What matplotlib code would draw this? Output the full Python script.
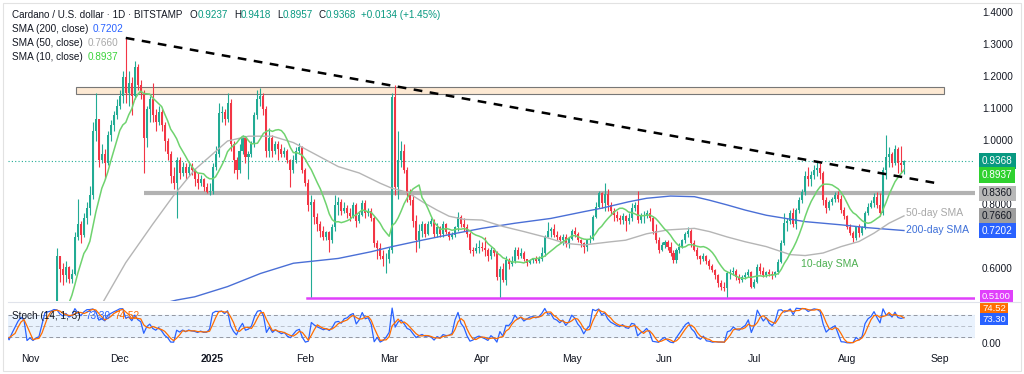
import numpy as np
import pandas as pd
import matplotlib
matplotlib.use('Agg')
import matplotlib.pyplot as plt
import matplotlib.dates as mdates
from matplotlib.transforms import blended_transform_factory
from matplotlib.patches import Rectangle
from matplotlib.lines import Line2D

plt.rcParams['font.family'] = ['Liberation Sans', 'DejaVu Sans']

# daily candles (close, high, low); open = previous close
oct24 = [(0.350,0.356,0.343),(0.357,0.362,0.347),(0.355,0.360,0.350),(0.348,0.358,0.345),(0.370,0.374,0.346),
         (0.357,0.372,0.352),(0.360,0.365,0.352),(0.352,0.362,0.349),(0.357,0.360,0.350),(0.357,0.362,0.353),
         (0.367,0.370,0.355),(0.355,0.370,0.350),(0.353,0.360,0.345),(0.344,0.355,0.340),(0.348,0.352,0.338),
         (0.335,0.352,0.330),(0.343,0.346,0.333),(0.350,0.352,0.340),(0.356,0.358,0.345),(0.359,0.368,0.352),
         (0.356,0.365,0.350),(0.332,0.358,0.328)]
nov24 = [(0.330,0.345,0.322),(0.323,0.335,0.318),(0.318,0.325,0.308),(0.320,0.330,0.310),(0.340,0.345,0.318),
         (0.365,0.375,0.338),(0.380,0.390,0.360),(0.395,0.405,0.375),(0.460,0.470,0.395),(0.640,0.665,0.455),
         (0.600,0.640,0.560),(0.580,0.620,0.550),(0.605,0.625,0.560),(0.570,0.610,0.555),(0.585,0.600,0.555),
         (0.700,0.715,0.580),(0.740,0.820,0.690),(0.705,0.750,0.680),(0.760,0.775,0.700),(0.790,0.810,0.740),
         (0.830,0.860,0.770),(1.030,1.060,0.820),(1.070,1.150,1.000),(0.940,1.070,0.920),(0.960,0.990,0.930),
         (0.930,0.975,0.880),(1.020,1.030,0.925),(1.050,1.065,1.000),(1.080,1.095,1.030),(1.110,1.130,1.070)]
dec24 = [(1.140,1.160,1.100),(1.200,1.220,1.120),(1.150,1.325,1.120),(1.180,1.220,1.110),(1.140,1.200,1.080),
         (1.230,1.250,1.130),(1.175,1.240,1.160),(1.150,1.190,1.130),(1.010,1.160,0.900),(1.100,1.110,0.980),
         (1.130,1.140,1.060),(1.080,1.180,1.060),(1.060,1.100,1.030),(1.090,1.110,1.050),(1.050,1.100,1.030),
         (1.000,1.060,0.970),(0.960,1.010,0.940),(0.890,0.970,0.870),(0.870,0.920,0.850),(0.940,0.950,0.760),
         (0.900,0.950,0.880),(0.920,0.935,0.890),(0.900,0.930,0.880),(0.920,0.935,0.890),(0.910,0.930,0.895),
         (0.880,0.915,0.860),(0.870,0.900,0.850),(0.880,0.895,0.860),(0.855,0.885,0.845),(0.840,0.870,0.836),
         (0.845,0.870,0.830)]
jan25 = [(0.920,0.930,0.835),(0.960,0.985,0.910),(1.087,1.120,0.950),(1.090,1.110,1.060),(1.070,1.100,1.050),
         (1.120,1.150,1.060),(0.990,1.130,0.970),(0.940,1.000,0.900),(0.910,0.950,0.880),(0.970,0.990,0.900),
         (1.010,1.020,0.960),(0.950,1.010,0.930),(0.960,0.970,0.880),(0.990,1.000,0.950),(1.080,1.090,0.980),
         (1.130,1.160,1.070),(1.140,1.165,1.110),(1.100,1.150,1.080),(0.970,1.110,0.950),(1.010,1.040,0.950),
         (0.970,1.020,0.950),(0.990,1.000,0.960),(0.975,1.000,0.940),(0.960,0.990,0.950),(0.970,0.980,0.950),
         (0.940,0.975,0.930),(0.910,0.945,0.857),(0.940,0.955,0.900),(0.970,0.980,0.930),(0.980,0.995,0.960),
         (0.910,0.985,0.900)]
feb25 = [(0.870,0.915,0.860),(0.800,0.880,0.780),(0.810,0.830,0.513),(0.764,0.820,0.740),(0.740,0.775,0.720),
         (0.720,0.750,0.700),(0.700,0.735,0.690),(0.715,0.720,0.690),(0.690,0.720,0.654),(0.730,0.740,0.680),
         (0.800,0.830,0.720),(0.810,0.825,0.770),(0.780,0.820,0.770),(0.790,0.810,0.775),(0.775,0.800,0.760),
         (0.765,0.790,0.750),(0.800,0.810,0.760),(0.750,0.805,0.730),(0.770,0.780,0.745),(0.805,0.815,0.765),
         (0.775,0.815,0.760),(0.780,0.790,0.765),(0.760,0.790,0.750),(0.680,0.765,0.670),(0.665,0.690,0.630),
         (0.640,0.680,0.630),(0.630,0.660,0.610),(0.630,0.650,0.587)]
mar25 = [(0.659,0.670,0.620),(1.138,1.150,0.650),(0.857,1.175,0.830),(0.940,1.030,0.820),(0.970,1.000,0.920),
         (0.910,0.990,0.900),(0.836,0.920,0.810),(0.815,0.850,0.800),(0.750,0.830,0.730),(0.690,0.770,0.654),
         (0.720,0.740,0.665),(0.740,0.750,0.700),(0.710,0.745,0.700),(0.740,0.750,0.705),(0.750,0.760,0.735),
         (0.710,0.755,0.700),(0.730,0.745,0.700),(0.710,0.735,0.700),(0.740,0.750,0.700),(0.715,0.745,0.710),
         (0.700,0.720,0.690),(0.705,0.715,0.695),(0.730,0.735,0.700),(0.763,0.779,0.720),(0.740,0.770,0.730),
         (0.730,0.760,0.720),(0.710,0.740,0.700),(0.660,0.715,0.650),(0.655,0.670,0.640),(0.665,0.680,0.650),
         (0.670,0.690,0.650)]
apr25 = [(0.665,0.685,0.655),(0.660,0.700,0.640),(0.640,0.665,0.625),(0.660,0.670,0.630),(0.650,0.665,0.640),
         (0.576,0.655,0.565),(0.600,0.610,0.513),(0.565,0.620,0.560),(0.628,0.640,0.550),(0.615,0.635,0.600),
         (0.625,0.640,0.610),(0.660,0.670,0.620),(0.640,0.670,0.630),(0.650,0.665,0.635),(0.630,0.655,0.625),
         (0.620,0.630,0.610),(0.628,0.632,0.615),(0.630,0.635,0.620),(0.625,0.640,0.618),(0.630,0.640,0.620),
         (0.650,0.670,0.625),(0.700,0.705,0.640),(0.720,0.748,0.700),(0.725,0.730,0.700),(0.705,0.740,0.700),
         (0.700,0.720,0.690),(0.690,0.705,0.680),(0.700,0.710,0.675),(0.680,0.710,0.670),(0.695,0.700,0.665)]
may25 = [(0.720,0.725,0.690),(0.710,0.730,0.700),(0.690,0.715,0.685),(0.680,0.695,0.670),(0.670,0.685,0.650),
         (0.690,0.695,0.655),(0.695,0.705,0.680),(0.763,0.770,0.690),(0.795,0.810,0.760),(0.836,0.845,0.790),
         (0.805,0.840,0.790),(0.835,0.868,0.780),(0.800,0.850,0.780),(0.780,0.810,0.770),(0.770,0.790,0.750),
         (0.760,0.780,0.750),(0.753,0.770,0.740),(0.765,0.775,0.740),(0.750,0.770,0.720),(0.760,0.775,0.740),
         (0.790,0.805,0.750),(0.800,0.810,0.780),(0.753,0.845,0.745),(0.765,0.775,0.745),(0.770,0.780,0.745),
         (0.775,0.785,0.760),(0.760,0.790,0.750),(0.720,0.765,0.710),(0.690,0.740,0.680),(0.659,0.700,0.650),
         (0.675,0.685,0.655)]
jun25 = [(0.685,0.690,0.665),(0.670,0.690,0.660),(0.650,0.685,0.640),(0.628,0.660,0.620),(0.660,0.665,0.620),
         (0.670,0.680,0.650),(0.690,0.695,0.665),(0.710,0.715,0.680),(0.720,0.732,0.700),(0.680,0.725,0.670),
         (0.660,0.690,0.655),(0.640,0.670,0.630),(0.630,0.645,0.615),(0.640,0.650,0.625),(0.625,0.645,0.615),
         (0.610,0.630,0.600),(0.597,0.615,0.590),(0.580,0.600,0.570),(0.555,0.585,0.545),(0.545,0.565,0.535),
         (0.540,0.560,0.530),(0.586,0.595,0.513),(0.590,0.600,0.570),(0.595,0.605,0.580),(0.575,0.600,0.565),
         (0.565,0.585,0.555),(0.575,0.580,0.560),(0.580,0.590,0.570),(0.590,0.600,0.575),(0.545,0.595,0.540)]
jul25 = [(0.560,0.570,0.540),(0.607,0.615,0.555),(0.595,0.620,0.585),(0.580,0.605,0.575),(0.590,0.595,0.575),
         (0.585,0.600,0.578),(0.580,0.595,0.570),(0.590,0.595,0.575),(0.623,0.630,0.585),(0.680,0.690,0.620),
         (0.743,0.774,0.675),(0.750,0.760,0.720),(0.774,0.785,0.740),(0.740,0.790,0.730),(0.784,0.790,0.725),
         (0.816,0.825,0.775),(0.840,0.850,0.805),(0.890,0.905,0.830),(0.880,0.920,0.860),(0.895,0.905,0.860),
         (0.910,0.925,0.880),(0.915,0.936,0.890),(0.900,0.930,0.880),(0.816,0.905,0.800),(0.790,0.825,0.774),
         (0.810,0.815,0.785),(0.820,0.825,0.800),(0.830,0.840,0.810),(0.820,0.845,0.810),(0.784,0.830,0.775),
         (0.765,0.795,0.755)]
aug25 = [(0.732,0.770,0.725),(0.712,0.740,0.705),(0.696,0.720,0.685),(0.730,0.735,0.690),(0.712,0.740,0.700),
         (0.730,0.735,0.705),(0.774,0.780,0.725),(0.795,0.805,0.770),(0.805,0.815,0.790),(0.826,0.836,0.795),
         (0.800,0.840,0.790),(0.774,0.836,0.765),(0.910,0.920,0.770),(0.950,1.019,0.880),(0.960,0.980,0.920),
         (0.930,0.965,0.920),(0.975,0.988,0.925),(0.930,0.980,0.900),(0.9237,0.985,0.900),(0.9368,0.9418,0.8957)]

# moving averages
sma50_dates = ['2024-11-25','2024-12-03','2024-12-12','2024-12-19','2024-12-26','2025-01-06','2025-01-13',
               '2025-01-21','2025-01-28','2025-02-02','2025-02-12','2025-02-19','2025-02-26','2025-03-02',
               '2025-03-07','2025-03-13','2025-03-17','2025-03-21','2025-03-26','2025-04-01','2025-04-08',
               '2025-04-15','2025-04-22','2025-04-29','2025-05-05','2025-05-14','2025-05-19','2025-05-26',
               '2025-06-02','2025-06-11','2025-06-16','2025-06-22','2025-06-28','2025-07-05','2025-07-13',
               '2025-07-18','2025-07-24','2025-07-30','2025-08-05','2025-08-10','2025-08-15','2025-08-20']
sma50_vals = [0.49,0.62,0.74,0.83,0.91,1.00,1.015,1.015,0.995,0.97,0.92,0.90,0.868,0.852,0.84,0.805,0.784,
              0.765,0.755,0.753,0.733,0.717,0.70,0.68,0.675,0.685,0.69,0.71,0.722,0.727,0.717,0.70,0.685,
              0.67,0.645,0.642,0.65,0.67,0.686,0.712,0.743,0.766]
sma200_dates = ['2024-12-10','2024-12-20','2024-12-26','2025-01-06','2025-01-17','2025-01-28','2025-02-12',
                '2025-02-23','2025-03-02','2025-03-12','2025-03-23','2025-04-01','2025-04-12','2025-04-24',
                '2025-05-05','2025-05-11','2025-05-20','2025-05-26','2025-06-03','2025-06-11','2025-06-16',
                '2025-06-22','2025-06-28','2025-07-05','2025-07-18','2025-07-30','2025-08-08','2025-08-20']
sma200_vals = [0.48,0.503,0.513,0.545,0.586,0.618,0.633,0.654,0.67,0.69,0.711,0.727,0.743,0.758,0.779,0.79,
               0.81,0.821,0.828,0.826,0.815,0.80,0.784,0.768,0.748,0.738,0.729,0.7202]

month_ticks = ['2024-11-01','2024-12-01','2025-01-01','2025-02-01','2025-03-01','2025-04-01','2025-05-01',
               '2025-06-01','2025-07-01','2025-08-01','2025-09-01']
month_labels = ['Nov','Dec','2025','Feb','Mar','Apr','May','Jun','Jul','Aug','Sep']
price_ticks = [1.4, 1.3, 1.2, 1.1, 1.0, 0.8, 0.6]

rows = oct24 + nov24 + dec24 + jan25 + feb25 + mar25 + apr25 + may25 + jun25 + jul25 + aug25
dates = pd.date_range('2024-10-10', periods=len(rows), freq='D')
df = pd.DataFrame(rows, columns=['close', 'high', 'low'], index=dates)
df['open'] = df['close'].shift(1).fillna(df['close'])
df['high'] = df[['high', 'open', 'close']].max(axis=1)
df['low'] = df[['low', 'open', 'close']].min(axis=1)

sma10 = df['close'].rolling(10).mean()
ll = df['low'].rolling(14).min()
hh = df['high'].rolling(14).max()
k = 100 * (df['close'] - ll) / (hh - ll)
d = k.rolling(3).mean()

UP, DN = '#22ab94', '#f23645'
DARK = '#131722'
W, H = 1024, 374

fig = plt.figure(figsize=(W / 100, H / 100), dpi=100)
ax = fig.add_axes([8 / W, 1 - 301 / H, 967 / W, 293 / H])
ax2 = fig.add_axes([8 / W, 1 - 348 / H, 967 / W, 46 / H], sharex=ax)

x = mdates.date2num(df.index)
nov1 = mdates.date2num(pd.Timestamp('2024-11-01'))
xl = (nov1 + (8 - 30) / 2.993, nov1 + (975 - 30) / 2.993)

# levels / drawings (behind candles)
ax.add_patch(Rectangle((nov1 + 15.4, 1.146), 290, 0.024, fc='#fde9d3', ec='#777777', lw=0.8, zorder=1))
ax.plot([nov1 + 38, xl[1]], [0.836, 0.836], color='#b2b2b2', lw=3, zorder=1, solid_capstyle='butt')
ax.plot([nov1 + 92.5, xl[1]], [0.51, 0.51], color='#e040fb', lw=1.8, zorder=1)
ax.axhline(0.9368, color=UP, lw=0.8, ls=(0, (1, 2)), zorder=1)

up = df['close'] >= df['open']
cols = np.where(up, UP, DN)
ax.vlines(x, df['low'], df['high'], colors=cols, lw=0.8, zorder=3)
body = (df['close'] - df['open']).abs().clip(lower=0.002)
ax.bar(x, body, bottom=df[['open', 'close']].min(axis=1), width=0.68, color=cols, zorder=3, linewidth=0)

ax.plot(mdates.date2num(pd.to_datetime(sma200_dates)), sma200_vals, color='#4a6fd6', lw=1.0, zorder=4)
ax.plot(mdates.date2num(pd.to_datetime(sma50_dates)), sma50_vals, color='#b5b5b5', lw=1.0, zorder=4)
ax.plot(x, sma10, color='#6fd36f', lw=1.1, zorder=4)

# falling trendline
ax.plot([mdates.date2num(pd.Timestamp('2024-12-03')), nov1 + 302.4], [1.322, 0.869],
        color='black', lw=1.8, ls=(0, (3.5, 3)), zorder=5)

ax.text(nov1 + 257.6, 0.616, '10-day SMA', color='#4caf50', fontsize=7.5, va='center', zorder=6)
last = x[-1]
ax.text(last + 0.8, 0.775, '50-day SMA', color='#a8a8a8', fontsize=7.5, va='center', zorder=6)
ax.text(last + 0.8, 0.722, '200-day SMA', color='#3d6fd8', fontsize=7.5, va='center', zorder=6)

ax.set_xlim(xl)
ax.set_ylim(0.5, 1.4156)
for a in (ax, ax2):
    for s in a.spines.values():
        s.set_visible(False)
    a.set_yticks([])
ax.tick_params(axis='x', length=0, labelbottom=False)

# right price scale
tr = blended_transform_factory(ax.transAxes, ax.transData)
xr = 1 + 7 / 967
for v in price_ticks:
    ax.text(xr, v, f'{v:.4f}', transform=tr, fontsize=7.2, color=DARK, va='center', ha='left', clip_on=False)

def tag(axis, trans, y, s, bg, fg='white', size=7.2, pad=0.28):
    axis.text(xr, y, s, transform=trans, fontsize=size, color=fg, va='center', ha='left', clip_on=False,
              zorder=10, bbox=dict(boxstyle=f'square,pad={pad}', fc=bg, ec='none'))

tag(ax, tr, 0.9368, '0.9368', '#089981')
tag(ax, tr, 0.8937, '0.8937', '#2fd12f')
tag(ax, tr, 0.8360, '0.8360', '#b8b8b8', DARK)
tag(ax, tr, 0.7660, '0.7660', '#9e9e9e', DARK)
tag(ax, tr, 0.7202, '0.7202', '#2962ff')
tag(ax, tr, 0.5135, '0.5100', '#e040fb', size=6.8, pad=0.2)

# stochastic panel
ax2.axhspan(20, 80, color='#e9f2fd', zorder=0)
for lv, a_ in ((80, 0.9), (50, 0.5), (20, 0.9)):
    ax2.axhline(lv, color='#8a8e99', lw=0.7, ls=(0, (4, 3)), alpha=a_, zorder=1)
ax2.plot(x, k, color='#2962ff', lw=0.9, zorder=3)
ax2.plot(x, d, color='#ff6d00', lw=0.9, zorder=3)
ax2.set_ylim(-10.9, 114.4)
tr2 = blended_transform_factory(ax2.transAxes, ax2.transData)
ax2.text(xr, 0, '0.00', transform=tr2, fontsize=7.2, color=DARK, va='center', ha='left', clip_on=False)
tag(ax2, tr2, 98, '74.52', '#ff6d00', size=6.8, pad=0.2)
tag(ax2, tr2, 68, '73.30', '#2962ff', size=6.8, pad=0.2)

ax2.set_xticks(mdates.date2num(pd.to_datetime(month_ticks)))
ax2.set_xticklabels(month_labels)
ax2.tick_params(axis='x', length=0, pad=4, labelsize=7.5, labelcolor=DARK)
for lab in ax2.get_xticklabels():
    if lab.get_text() == '2025':
        lab.set_fontweight('bold')

# frame and separator
fig.add_artist(Line2D([8 / W, 1020 / W], [1 - 301.5 / H] * 2, color='#e0e3eb', lw=0.8))
fig.add_artist(Rectangle((3 / W, 3 / H), 1018 / W, 368 / H, fill=False, ec='#e2e2e2', lw=0.8))

# header legend text
rend = fig.canvas.get_renderer()

def seq(xp, yp, parts, size=7.2):
    for txt, col, gap in parts:
        xp += gap
        t = fig.text(xp / W, 1 - yp / H, txt, color=col, fontsize=size, va='center', ha='left')
        xp = t.get_window_extent(renderer=rend).x1

TEAL = '#089981'
seq(12.5, 15, [('Cardano / U.S. dollar · 1D · BITSTAMP', DARK, 0), ('O', DARK, 7), ('0.9237', TEAL, 0),
               ('H', DARK, 6), ('0.9418', TEAL, 0), ('L', DARK, 6), ('0.8957', TEAL, 0),
               ('C', DARK, 6), ('0.9368', TEAL, 0), ('+0.0134 (+1.45%)', TEAL, 5)], size=7.1)
seq(12.5, 29, [('SMA (200, close)', DARK, 0), ('0.7202', '#2962ff', 4)])
seq(12.5, 43, [('SMA (50, close)', DARK, 0), ('0.7660', '#a8a8a8', 4)])
seq(12.5, 57, [('SMA (10, close)', DARK, 0), ('0.8937', '#3bd33b', 4)])
seq(12.5, 316, [('Stoch (14, 1, 3)', DARK, 0), ('73.30', '#2962ff', 4), ('74.52', '#ff6d00', 4)])

fig.savefig('out.png', dpi=100, facecolor='white')
